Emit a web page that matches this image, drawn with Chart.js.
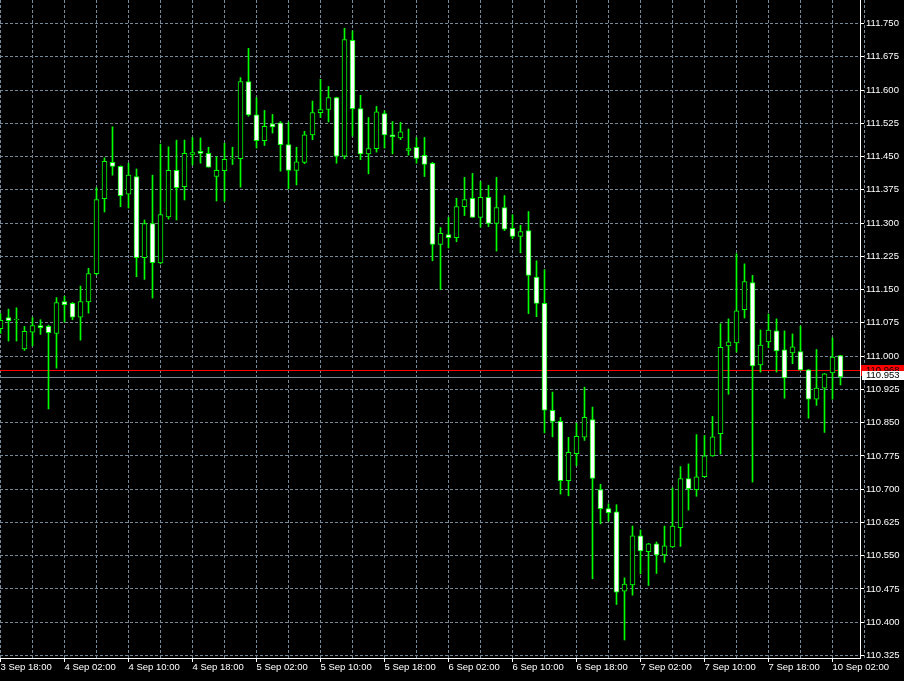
<!DOCTYPE html>
<html>
<head>
<meta charset="utf-8">
<title>USDJPY H1</title>
<script src="https://cdn.jsdelivr.net/npm/chart.js@4.4.1/dist/chart.umd.min.js"></script>
<style>
  html, body { margin: 0; padding: 0; background: #000; }
  canvas { display: block; }
</style>
</head>
<body>
<canvas id="chart" width="904" height="681"></canvas>
<script>
// Hourly candles, 3 Sep 18:00 .. 10 Sep 03:00 (weekend skipped)
const opens = [
  111.062, 111.087, 111.082, 111.016, 111.054, 111.069, 111.067, 111.051, 111.123, 111.119,
  111.088, 111.122, 111.186, 111.355, 111.437, 111.428, 111.365, 111.405, 111.222, 111.299,
  111.210, 111.314, 111.419, 111.382, 111.455, 111.462, 111.457, 111.405, 111.418, 111.445,
  111.445, 111.619, 111.544, 111.486, 111.524, 111.526, 111.477, 111.419, 111.437, 111.499,
  111.549, 111.556, 111.583, 111.451, 111.712, 111.558, 111.456, 111.468, 111.547, 111.499,
  111.492, 111.464, 111.471, 111.453, 111.435, 111.252, 111.274, 111.267, 111.337, 111.356,
  111.313, 111.358, 111.299, 111.335, 111.288, 111.270, 111.283, 111.178, 111.119, 110.878,
  110.853, 110.719, 110.780, 110.817, 110.857, 110.699, 110.656, 110.649, 110.470, 110.484,
  110.595, 110.559, 110.577, 110.552, 110.570, 110.613, 110.724, 110.699, 110.728, 110.775,
  110.825, 111.023, 111.030, 111.105, 111.166, 110.980, 111.032, 111.057, 111.014, 111.007,
  111.010, 110.969, 110.903, 110.928, 110.962, 111.001
];
const highs = [
  111.096, 111.106, 111.109, 111.067, 111.087, 111.082, 111.070, 111.132, 111.135, 111.121,
  111.158, 111.198, 111.380, 111.447, 111.517, 111.429, 111.435, 111.422, 111.307, 111.408,
  111.478, 111.472, 111.487, 111.487, 111.493, 111.492, 111.471, 111.450, 111.480, 111.471,
  111.628, 111.694, 111.583, 111.554, 111.545, 111.529, 111.528, 111.471, 111.507, 111.575,
  111.624, 111.608, 111.584, 111.739, 111.733, 111.588, 111.538, 111.563, 111.553, 111.529,
  111.527, 111.512, 111.493, 111.493, 111.437, 111.290, 111.313, 111.356, 111.403, 111.412,
  111.394, 111.385, 111.403, 111.362, 111.319, 111.295, 111.326, 111.215, 111.195, 110.919,
  110.862, 110.817, 110.849, 110.930, 110.885, 110.711, 110.667, 110.665, 110.500, 110.617,
  110.608, 110.578, 110.581, 110.617, 110.703, 110.751, 110.757, 110.823, 110.821, 110.864,
  111.073, 111.084, 111.231, 111.208, 111.182, 111.059, 111.095, 111.084, 111.057, 111.050,
  111.068, 110.970, 111.015, 110.961, 111.041, 111.002
];
const lows = [
  111.051, 111.034, 111.034, 111.013, 111.023, 111.049, 110.881, 110.973, 111.077, 111.082,
  111.036, 111.097, 111.183, 111.325, 111.408, 111.337, 111.334, 111.179, 111.173, 111.131,
  111.208, 111.309, 111.307, 111.352, 111.431, 111.435, 111.426, 111.350, 111.349, 111.432,
  111.381, 111.541, 111.469, 111.475, 111.503, 111.417, 111.377, 111.386, 111.434, 111.488,
  111.538, 111.528, 111.435, 111.445, 111.496, 111.443, 111.411, 111.460, 111.469, 111.456,
  111.488, 111.453, 111.435, 111.405, 111.215, 111.150, 111.244, 111.258, 111.317, 111.313,
  111.291, 111.292, 111.237, 111.283, 111.265, 111.233, 111.096, 111.089, 110.827, 110.818,
  110.689, 110.685, 110.753, 110.810, 110.498, 110.622, 110.628, 110.440, 110.360, 110.461,
  110.509, 110.483, 110.510, 110.535, 110.569, 110.571, 110.653, 110.684, 110.727, 110.774,
  110.779, 110.914, 111.009, 111.086, 110.716, 110.964, 111.019, 110.964, 110.905, 110.983,
  110.968, 110.860, 110.889, 110.828, 110.903, 110.935
];
const closes = [
  111.081, 111.080, 111.083, 111.056, 111.069, 111.064, 111.053, 111.121, 111.116, 111.088,
  111.123, 111.186, 111.353, 111.439, 111.428, 111.362, 111.408, 111.222, 111.299, 111.211,
  111.319, 111.419, 111.380, 111.457, 111.459, 111.457, 111.426, 111.419, 111.444, 111.446,
  111.619, 111.544, 111.486, 111.518, 111.517, 111.477, 111.419, 111.438, 111.499, 111.549,
  111.556, 111.583, 111.451, 111.714, 111.558, 111.456, 111.468, 111.551, 111.499, 111.495,
  111.506, 111.468, 111.446, 111.432, 111.252, 111.277, 111.267, 111.337, 111.353, 111.313,
  111.358, 111.299, 111.335, 111.286, 111.270, 111.281, 111.182, 111.119, 110.878, 110.853,
  110.719, 110.783, 110.819, 110.862, 110.724, 110.656, 110.647, 110.468, 110.486, 110.595,
  110.561, 110.577, 110.552, 110.572, 110.617, 110.724, 110.701, 110.728, 110.775, 110.818,
  111.020, 111.032, 111.102, 111.168, 110.978, 111.025, 111.059, 111.012, 110.951, 111.021,
  110.969, 110.903, 110.928, 110.960, 110.998, 110.953
];

// one label every 8 candles, starting at the first candle
const timeLabels = [
  '3 Sep 18:00', '4 Sep 02:00', '4 Sep 10:00', '4 Sep 18:00', '5 Sep 02:00',
  '5 Sep 10:00', '5 Sep 18:00', '6 Sep 02:00', '6 Sep 10:00', '6 Sep 18:00',
  '7 Sep 02:00', '7 Sep 10:00', '7 Sep 18:00', '10 Sep 02:00'
];
const priceTicks = [
  110.325, 110.400, 110.475, 110.550, 110.625, 110.700, 110.775, 110.850, 110.925, 111.000,
  111.075, 111.150, 111.225, 111.300, 111.375, 111.450, 111.525, 111.600, 111.675, 111.750
];
const bidPrice = 110.953;
const askPrice = 110.968;

const GREEN = '#00ff00';
const GRID = '#778899';
const FONT = { family: 'Liberation Sans', size: 9.5 };

const bodies = opens.map((o, i) => ({ x: i, y: [o, closes[i]] }));
const wicks = lows.map((l, i) => ({ x: i, y: [l, highs[i]] }));
const bodyFill = opens.map((o, i) => closes[i] > o ? '#000000' : '#ffffff');

// axes take fixed room, no extra padding for overhanging labels
function fixBox(size) {
  return s => {
    if (s.isHorizontal()) s.height = size; else s.width = size;
    s.paddingTop = 0;
    s.paddingBottom = 0;
    s.paddingLeft = 0;
    s.paddingRight = 0;
  };
}

// bid / ask lines under the candles, price boxes on the axis
const priceLines = {
  id: 'priceLines',
  beforeDatasetsDraw(chart) {
    const { ctx, chartArea: a, scales: { y } } = chart;
    ctx.save();
    ctx.lineWidth = 1;
    [[askPrice, '#ff0000'], [bidPrice, GRID]].forEach(([p, c]) => {
      const py = Math.round(y.getPixelForValue(p)) + 0.5;
      ctx.strokeStyle = c;
      ctx.beginPath();
      ctx.moveTo(a.left, py);
      ctx.lineTo(a.right, py);
      ctx.stroke();
    });
    ctx.restore();
  },
  afterDraw(chart) {
    const { ctx, chartArea: a, scales: { y } } = chart;
    const askY = Math.round(y.getPixelForValue(askPrice));
    const bidY = Math.round(y.getPixelForValue(bidPrice));
    ctx.save();
    ctx.font = FONT.size + 'px ' + FONT.family;
    ctx.textBaseline = 'middle';
    ctx.fillStyle = '#ff0000';
    ctx.fillRect(a.right + 1, askY - 5, chart.width - a.right - 1, 11);
    ctx.fillStyle = '#000';
    ctx.fillText(askPrice.toFixed(3), a.right + 6, askY + 0.5);
    ctx.fillStyle = '#ffffff';
    ctx.fillRect(a.right + 2, bidY - 6, chart.width - a.right - 2, 9);
    ctx.fillStyle = '#000';
    ctx.fillText(bidPrice.toFixed(3), a.right + 6, bidY - 1.5);
    ctx.restore();
  }
};

new Chart(document.getElementById('chart'), {
  type: 'bar',
  data: {
    datasets: [
      {
        label: 'body',
        data: bodies,
        backgroundColor: bodyFill,
        borderColor: GREEN,
        borderWidth: 1,
        borderSkipped: false,
        barThickness: 5,
        grouped: false
      },
      {
        label: 'wick',
        data: wicks,
        backgroundColor: GREEN,
        borderWidth: 0,
        barThickness: 1,
        grouped: false
      }
    ]
  },
  options: {
    responsive: false,
    animation: false,
    layout: { padding: 0 },
    plugins: { legend: { display: false }, tooltip: { enabled: false } },
    scales: {
      x: {
        type: 'linear',
        position: 'bottom',
        min: -0.0625,
        max: 107.4375,
        offset: false,
        afterBuildTicks: s => {
          s.ticks = [];
          for (let i = 0; i < timeLabels.length * 2; i++) s.ticks.push({ value: i * 4 });
        },
        afterFit: fixBox(23),
        ticks: {
          autoSkip: false,
          maxRotation: 0,
          minRotation: 0,
          align: 'start',
          padding: 0,
          color: '#ffffff',
          font: FONT,
          callback: v => v % 8 === 0 ? timeLabels[v / 8] : ''
        },
        grid: {
          offset: false,
          color: GRID,
          lineWidth: 1,
          tickLength: 4,
          tickColor: c => (c.tick && c.tick.value % 8 === 0) ? '#ffffff' : 'rgba(0,0,0,0)'
        },
        border: { display: true, color: '#ffffff', width: 1, dash: [3, 2] }
      },
      y: {
        type: 'linear',
        position: 'right',
        min: 110.31936,
        max: 111.80299,
        afterBuildTicks: s => { s.ticks = priceTicks.map(v => ({ value: v })); },
        afterFit: fixBox(44),
        ticks: {
          padding: 2,
          color: '#ffffff',
          font: FONT,
          callback: v => v.toFixed(3)
        },
        grid: {
          color: GRID,
          lineWidth: 1,
          tickLength: 4,
          tickColor: '#ffffff'
        },
        border: { display: true, color: '#ffffff', width: 1, dash: [3, 2] }
      }
    }
  },
  plugins: [priceLines]
});
</script>
</body>
</html>
